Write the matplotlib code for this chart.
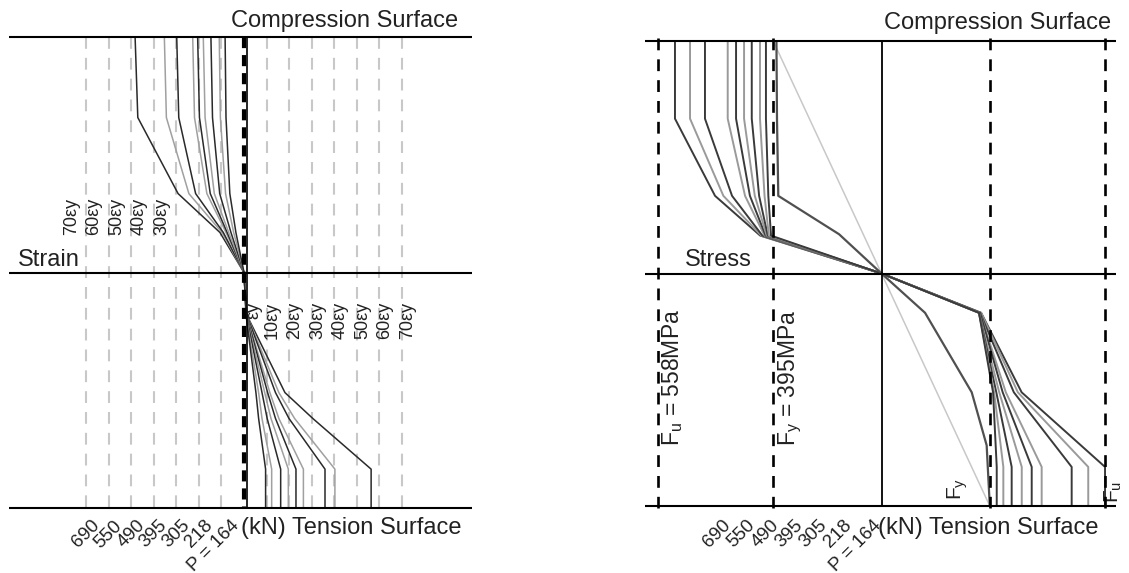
import numpy as np
import matplotlib
matplotlib.use("Agg")
import matplotlib.pyplot as plt

plt.rcParams['font.family'] = ['Liberation Sans', 'DejaVu Sans']
plt.rcParams['mathtext.fontset'] = 'custom'
plt.rcParams['mathtext.rm'] = 'Liberation Sans'
plt.rcParams['mathtext.it'] = 'Liberation Sans'
plt.rcParams['lines.scale_dashes'] = False
plt.rcParams['lines.solid_capstyle'] = 'butt'

# ------------------------------------------------------------------ data
load_labels = ["690", "550", "490", "395", "305", "218", "P = 164"]

# strain panel (units of yield strain, eps_y)
grid_strain = [-70, -60, -50, -40, -30, -20, -10, 10, 20, 30, 40, 50, 60, 70]
comp_label_vals = [-70, -60, -50, -40, -30]
tens_label_vals = [1, 10, 20, 30, 40, 50, 60, 70]

comp_depth = [1.0, 0.658, 0.335, 0.17, 0.0]
comp_strain = [
    [-48.4, -47.2, -29.3, -10.7, 0.0],
    [-35.4, -34.5, -24.5, -9.8, 0.0],
    [-29.9, -29.0, -21.5, -9.2, 0.0],
    [-22.8, -22.0, -16.5, -8.0, 0.0],
    [-20.6, -19.8, -15.0, -7.5, 0.0],
    [-18.1, -17.3, -13.2, -6.8, 0.0],
    [-14.7, -14.0, -10.8, -5.8, 0.0],
    [-11.0, -10.5, -8.2, -4.6, 0.0],
    [-8.4, -8.0, -6.3, -3.6, 0.0],
]
tens_depth = [0.0, -0.18, -0.51, -0.62, -0.835, -1.0]
tens_strain = [
    [0.0, 1.2, 18.2, 30.6, 56.5, 56.5],
    [0.0, 1.2, 15.5, 22.5, 40.4, 40.4],
    [0.0, 1.2, 14.0, 20.0, 36.0, 36.0],
    [0.0, 1.1, 11.5, 15.5, 26.4, 26.4],
    [0.0, 1.1, 10.5, 14.0, 23.1, 23.1],
    [0.0, 1.0, 9.2, 12.0, 19.7, 19.7],
    [0.0, 1.0, 8.0, 10.3, 16.3, 16.3],
    [0.0, 0.9, 6.5, 8.0, 12.3, 12.3],
    [0.0, 0.9, 5.3, 6.5, 9.6, 9.6],
]

# stress panel (schematic units, yield stress line at +-1)
Fy_MPa, Fu_MPa = 395, 558
fy_pos, fu_pos = 1.0, 2.067

cs_depth = [1.0, 0.666, 0.334, 0.163, 0.0]
comp_stress = [
    [-1.907, -1.907, -1.537, -1.12, 0.0],
    [-1.768, -1.768, -1.46, -1.11, 0.0],
    [-1.630, -1.630, -1.38, -1.10, 0.0],
    [-1.420, -1.420, -1.26, -1.08, 0.0],
    [-1.343, -1.343, -1.215, -1.07, 0.0],
    [-1.269, -1.269, -1.17, -1.06, 0.0],
    [-1.198, -1.198, -1.13, -1.05, 0.0],
    [-1.122, -1.122, -1.08, -1.04, 0.0],
    [-1.067, -1.067, -1.045, -1.02, 0.0],
]
ts_depth = [0.0, -0.169, -0.511, -0.832, -1.0]
tens_stress = [
    [0.0, 0.92, 1.294, 2.064, 2.064],
    [0.0, 0.92, 1.259, 1.909, 1.909],
    [0.0, 0.91, 1.222, 1.756, 1.756],
    [0.0, 0.91, 1.148, 1.479, 1.479],
    [0.0, 0.91, 1.119, 1.387, 1.387],
    [0.0, 0.90, 1.087, 1.295, 1.295],
    [0.0, 0.90, 1.060, 1.202, 1.202],
    [0.0, 0.90, 1.040, 1.125, 1.125],
    [0.0, 0.90, 1.030, 1.064, 1.064],
]
# partially yielded profile (P = 218) and elastic profile (P = 164)
p218_depth = [1.0, 0.666, 0.334, 0.169, 0.0, -0.169, -0.511, -0.739, -1.0]
p218_stress = [-0.97, -0.965, -0.953, -0.392, 0.0, 0.402, 0.833, 0.971, 1.0]
p164_depth = [1.0, 0.0, -1.0]
p164_stress = [-1.0, 0.0, 1.0]

# ------------------------------------------------------------------ figure
W, H = 1129, 573
fig = plt.figure(figsize=(W / 100, H / 100), dpi=100)

# left panel: x_px = 244 + 2.25*s ; y_px = 272.5 - 235.5*y
axL = fig.add_axes([0, 0, 564 / W, 1])
axL.set_xlim(-244 / 2.25, (564 - 244) / 2.25)
axL.set_ylim((272.5 - H) / 235.5, 272.5 / 235.5)
axL.axis('off')

# right panel: x_px = 881.5 + 108.3*u ; y_px = 273.5 - 232.5*y
axR = fig.add_axes([564 / W, 0, (W - 564) / W, 1])
axR.set_xlim((564 - 881.5) / 108.3, (W - 881.5) / 108.3)
axR.set_ylim((273.5 - H) / 232.5, 273.5 / 232.5)
axR.axis('off')

dark, light = '#2a2a2a', '#a0a0a0'
txt = '#222222'

# ---- strain panel
for g in grid_strain:
    axL.plot([g, g], [1.0, -1.012], color='#c8c8c8', lw=1.5,
             dashes=(8.5, 6.5), zorder=1)
for i, s in enumerate(comp_strain):
    axL.plot(s, comp_depth, color=dark if i % 2 == 0 else light, lw=1.1, zorder=3)
for i, s in enumerate(tens_strain):
    axL.plot(s, tens_depth, color=dark if i % 2 == 0 else light, lw=1.1, zorder=3)
xl = [-104.4, 101.5]
for yy in (1.0, 0.0, -1.0):
    axL.plot(xl, [yy, yy], color='black', lw=1.5, zorder=4)
axL.plot([0, 0], [1.0, -1.0], color='black', lw=3.0, dashes=(8, 5), zorder=5)
axL.plot([1.5, 1.5], [1.0, -1.0], color='black', lw=1.2, zorder=5)

for v in comp_label_vals:
    axL.text(v - 6.7, 0.159, f"{-v}εy", rotation=90, rotation_mode='anchor',
             ha='left', va='center', fontsize=13, color=txt)
for v in tens_label_vals:
    lab = "εy" if v == 1 else f"{v}εy"
    xpos = 4.2 if v == 1 else v + 2.6
    axL.text(xpos, -0.125, lab, rotation=90, rotation_mode='anchor',
             ha='right', va='center', fontsize=13, color=txt)

neg_grid = sorted([g for g in grid_strain if g < 0])
for g, lab in zip(neg_grid, load_labels):
    off = 6.9 if lab.startswith("P") else 4.7
    axL.text(g + off, -1.064, lab, rotation=45, rotation_mode='anchor',
             ha='right', va='center', fontsize=13.5, color=txt)

axL.text(95.1, 1.068, "Compression Surface", ha='right', va='center',
         fontsize=17, color=txt)
axL.text(-100.4, 0.053, "Strain", ha='left', va='center', fontsize=17,
         color=txt)
axL.text(-1.3, -1.085, "(kN) Tension Surface", ha='left', va='center',
         fontsize=17, color=txt)

# ---- stress panel
for xv in (-fu_pos, -fy_pos, fy_pos, fu_pos):
    axR.plot([xv, xv], [1.015, -1.01], color='black', lw=1.9,
             dashes=(8.5, 6.5), zorder=5)
axR.plot([0, 0], [1.0, -1.0], color='black', lw=1.3, zorder=4)
xr = [-2.184, 2.165]
for yy in (1.0, 0.0, -1.0):
    axR.plot(xr, [yy, yy], color='black', lw=1.5, zorder=4)

for i, s in enumerate(comp_stress):
    axR.plot(s, cs_depth, color='#3a3a3a' if i % 2 == 0 else '#9a9a9a',
             lw=1.4, zorder=3)
for i, s in enumerate(tens_stress):
    axR.plot(s, ts_depth, color='#3a3a3a' if i % 2 == 0 else '#9a9a9a',
             lw=1.4, zorder=3)
axR.plot(p218_stress, p218_depth, color='#505050', lw=1.6, zorder=3)
axR.plot(p164_stress, p164_depth, color='#c8c8c8', lw=1.1, zorder=2)

xs = list(np.linspace(-1.42, -0.30, 6)) + [-0.03]
for xv, lab in zip(xs, load_labels):
    axR.text(xv, -1.073, lab, rotation=45, rotation_mode='anchor',
             ha='right', va='center', fontsize=13.5, color=txt)

axR.text(-fu_pos + 0.14, -0.449, r"F$_\mathrm{u}$ = " + f"{Fu_MPa}MPa",
         rotation=90, ha='center', va='center', fontsize=16.5, color=txt)
axR.text(-fy_pos + 0.16, -0.449, r"F$_\mathrm{y}$ = " + f"{Fy_MPa}MPa",
         rotation=90, ha='center', va='center', fontsize=16.5, color=txt)
axR.text(fy_pos - 0.30, -0.974, r"F$_\mathrm{y}$", rotation=90,
         rotation_mode='anchor', ha='left', va='center', fontsize=15, color=txt)
axR.text(fu_pos + 0.07, -0.987, r"F$_\mathrm{u}$", rotation=90,
         rotation_mode='anchor', ha='left', va='center', fontsize=15, color=txt)

axR.text(2.119, 1.077, "Compression Surface", ha='right', va='center',
         fontsize=17, color=txt)
axR.text(-1.814, 0.058, "Stress", ha='left', va='center', fontsize=17,
         color=txt)
axR.text(-0.032, -1.095, "(kN) Tension Surface", ha='left', va='center',
         fontsize=17, color=txt)

fig.savefig("out.png", dpi=100, facecolor='white')
